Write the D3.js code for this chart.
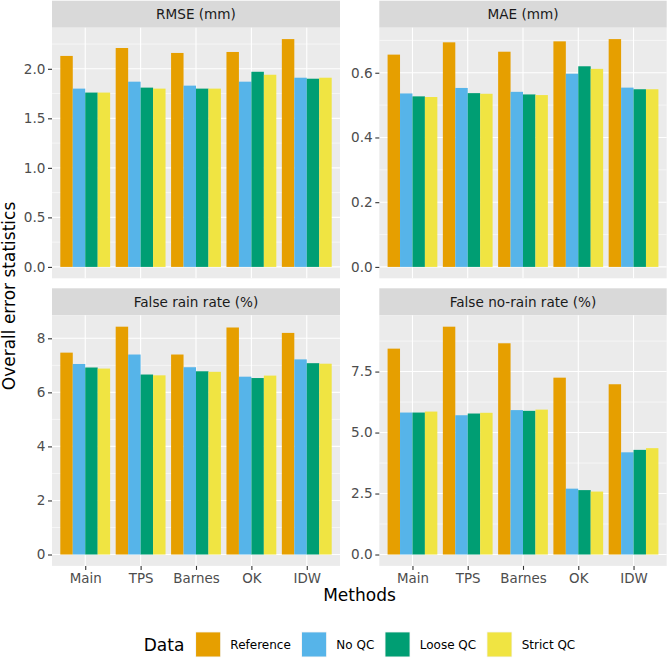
<!DOCTYPE html>
<html>
<head>
<meta charset="utf-8">
<script src="https://cdn.jsdelivr.net/npm/d3@7"></script>
<style>
  body { margin: 0; background: #fff; }
  svg { display: block; font-family: "DejaVu Sans", sans-serif; }
</style>
</head>
<body>
<div id="chart"></div>
<script>
// methods on x, data sets as dodged bars
var methods = ['Main', 'TPS', 'Barnes', 'OK', 'IDW'];
var dataSets = ['Reference', 'No QC', 'Loose QC', 'Strict QC'];
var colors = ['#E69F00', '#56B4E9', '#009E73', '#F0E442'];

// values per method: [Reference, No QC, Loose QC, Strict QC]
var rmse = [
	[2.13, 1.80, 1.76, 1.76],
	[2.21, 1.87, 1.81, 1.80],
	[2.16, 1.83, 1.80, 1.80],
	[2.17, 1.87, 1.97, 1.94],
	[2.30, 1.91, 1.90, 1.91]
];
var mae = [
	[0.656, 0.536, 0.527, 0.525],
	[0.694, 0.553, 0.537, 0.535],
	[0.665, 0.541, 0.533, 0.531],
	[0.697, 0.597, 0.620, 0.612],
	[0.704, 0.554, 0.549, 0.549]
];
var falseRain = [
	[7.47, 7.05, 6.92, 6.88],
	[8.43, 7.40, 6.66, 6.63],
	[7.40, 6.93, 6.78, 6.76],
	[8.40, 6.58, 6.53, 6.62],
	[8.20, 7.22, 7.08, 7.06]
];
var falseNoRain = [
	[8.44, 5.82, 5.82, 5.86],
	[9.34, 5.71, 5.78, 5.81],
	[8.66, 5.92, 5.89, 5.94],
	[7.25, 2.70, 2.64, 2.58],
	[6.98, 4.19, 4.29, 4.36]
];

var panelTitles = ['RMSE (mm)', 'MAE (mm)', 'False rain rate (%)', 'False no-rain rate (%)'];
var rmseTicks = [0, 0.5, 1.0, 1.5, 2.0];
var maeTicks = [0, 0.2, 0.4, 0.6];
var falseRainTicks = [0, 2, 4, 6, 8];
var falseNoRainTicks = [0, 2.5, 5.0, 7.5];
var tickFormats = ['.1f', '.1f', 'd', '.1f'];

var panels = [
	{ title: panelTitles[0], values: rmse, ticks: rmseTicks, fmt: tickFormats[0], x0: 52, x1: 340, top: 0.7 },
	{ title: panelTitles[1], values: mae, ticks: maeTicks, fmt: tickFormats[1], x0: 379.3, x1: 666.7, top: 0.7 },
	{ title: panelTitles[2], values: falseRain, ticks: falseRainTicks, fmt: tickFormats[2], x0: 52, x1: 340, top: 288.3 },
	{ title: panelTitles[3], values: falseNoRain, ticks: falseNoRainTicks, fmt: tickFormats[3], x0: 379.3, x1: 666.7, top: 288.3 }
];

var width = 669, height = 660;
var stripH = 27, panelH = 250.6;

var svg = d3.select('#chart').append('svg')
	.attr('width', width)
	.attr('height', height);

panels.forEach(function(p, pi) {
	var g = svg.append('g');
	var py0 = p.top + stripH, py1 = py0 + panelH;

	var maxV = d3.max(p.values, function(r) { return d3.max(r); });

	var x = d3.scalePoint()
		.domain(methods)
		.range([p.x0, p.x1])
		.padding(0.6);
	var step = x.step();
	var xi = d3.scaleBand()
		.domain(dataSets)
		.range([-0.45 * step, 0.45 * step]);
	var y = d3.scaleLinear()
		.domain([-0.05 * maxV, 1.05 * maxV])
		.range([py1, py0]);

	// strip
	g.append('rect')
		.attr('x', p.x0).attr('y', p.top)
		.attr('width', p.x1 - p.x0).attr('height', stripH)
		.style('fill', '#D9D9D9');
	g.append('text')
		.attr('x', (p.x0 + p.x1) / 2)
		.attr('y', p.top + stripH / 2)
		.attr('dy', '0.36em')
		.attr('text-anchor', 'middle')
		.style('font-size', '13.6px')
		.style('fill', '#1A1A1A')
		.text(p.title);

	// panel background
	g.append('rect')
		.attr('x', p.x0).attr('y', py0)
		.attr('width', p.x1 - p.x0).attr('height', panelH)
		.style('fill', '#EBEBEB');

	// minor grid
	var tstep = p.ticks[1] - p.ticks[0];
	var minor = p.ticks.map(function(t) { return t + tstep / 2; })
		.concat([p.ticks[0] - tstep / 2])
		.filter(function(v) { return v > y.domain()[0] && v < y.domain()[1]; });
	g.selectAll('.minor').data(minor).enter().append('line')
		.attr('x1', p.x0).attr('x2', p.x1)
		.attr('y1', function(d) { return y(d); })
		.attr('y2', function(d) { return y(d); })
		.style('stroke', '#fff')
		.style('stroke-width', 0.55);

	// major grid
	g.selectAll('.majorY').data(p.ticks).enter().append('line')
		.attr('x1', p.x0).attr('x2', p.x1)
		.attr('y1', function(d) { return y(d); })
		.attr('y2', function(d) { return y(d); })
		.style('stroke', '#fff')
		.style('stroke-width', 1.1);
	g.selectAll('.majorX').data(methods).enter().append('line')
		.attr('x1', function(d) { return x(d); })
		.attr('x2', function(d) { return x(d); })
		.attr('y1', py0).attr('y2', py1)
		.style('stroke', '#fff')
		.style('stroke-width', 1.1);

	// bars
	methods.forEach(function(m, mi) {
		g.selectAll('.bar' + mi).data(p.values[mi]).enter().append('rect')
			.attr('x', function(d, i) { return x(m) + xi(dataSets[i]); })
			.attr('width', xi.bandwidth())
			.attr('y', function(d) { return y(d); })
			.attr('height', function(d) { return y(0) - y(d); })
			.style('fill', function(d, i) { return colors[i]; });
	});

	// y axis
	var yAxis = d3.axisLeft(y)
		.tickValues(p.ticks)
		.tickFormat(d3.format(p.fmt))
		.tickSize(4)
		.tickPadding(2.6);
	var ya = g.append('g')
		.attr('transform', 'translate(' + p.x0 + ',0)')
		.call(yAxis);
	ya.select('.domain').remove();
	ya.selectAll('line').style('stroke', '#333333').style('stroke-width', 1.1);
	ya.selectAll('text')
		.style('font-family', '"DejaVu Sans", sans-serif')
		.style('font-size', '13.6px')
		.style('fill', '#4D4D4D');

	// x axis only on bottom row
	if (pi >= 2) {
		var xAxis = d3.axisBottom(x)
			.tickSize(4)
			.tickPadding(3.2);
		var xa = g.append('g')
			.attr('transform', 'translate(0,' + py1 + ')')
			.call(xAxis);
		xa.select('.domain').remove();
		xa.selectAll('line').style('stroke', '#333333').style('stroke-width', 1.1);
		xa.selectAll('text')
			.style('font-family', '"DejaVu Sans", sans-serif')
			.style('font-size', '13.4px')
			.style('fill', '#4D4D4D');
	}
});

// axis titles
svg.append('text')
	.attr('x', 359.5)
	.attr('y', 601)
	.attr('text-anchor', 'middle')
	.style('font-size', '17px')
	.style('fill', '#000')
	.text('Methods');

svg.append('text')
	.attr('transform', 'translate(15,296) rotate(-90)')
	.attr('text-anchor', 'middle')
	.style('font-size', '17px')
	.style('fill', '#000')
	.text('Overall error statistics');

// legend
var legend = svg.append('g');
var keySize = 25.5, legY = 631.7;
var title = legend.append('text')
	.attr('x', 0)
	.attr('y', legY + keySize / 2)
	.attr('dy', '0.36em')
	.style('font-size', '17px')
	.style('fill', '#000')
	.text('Data');
var cx = title.node().getComputedTextLength() + 11;
dataSets.forEach(function(d, i) {
	legend.append('rect')
		.attr('x', cx).attr('y', legY)
		.attr('width', keySize).attr('height', keySize)
		.style('fill', '#F2F2F2');
	legend.append('rect')
		.attr('x', cx + 0.7).attr('y', legY + 0.7)
		.attr('width', keySize - 1.4).attr('height', keySize - 1.4)
		.style('fill', colors[i]);
	var t = legend.append('text')
		.attr('x', cx + keySize + 9.5)
		.attr('y', legY + keySize / 2)
		.attr('dy', '0.36em')
		.style('font-size', '12px')
		.style('fill', '#000')
		.text(d);
	cx += keySize + 9.5 + t.node().getComputedTextLength() + (i < dataSets.length - 1 ? 10.5 : 0);
});
legend.attr('transform', 'translate(' + (359.5 - cx / 2) + ',0)');
</script>
</body>
</html>
